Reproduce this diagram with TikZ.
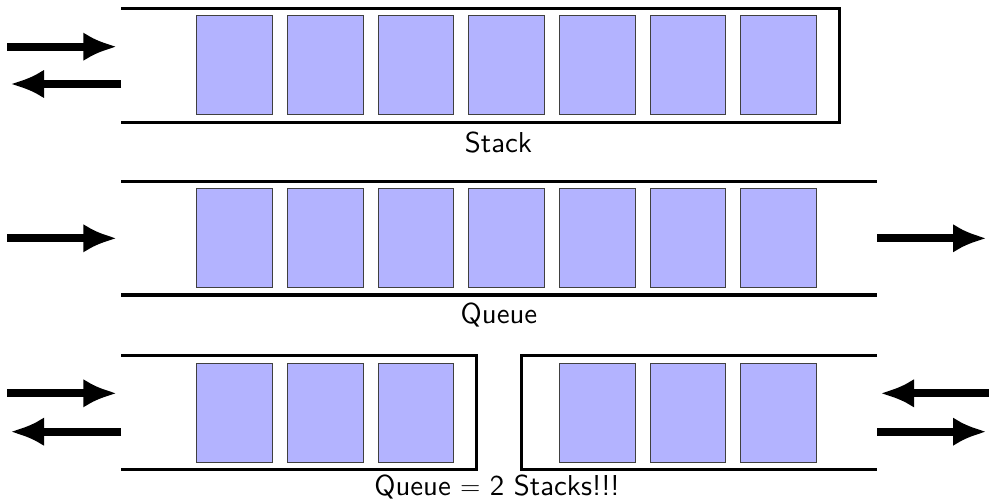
\documentclass[tikz,border=0pt]{standalone}
\usepackage{fontspec}
\newfontfamily\lmsten{lmsans10-regular.otf}
\usetikzlibrary{arrows.meta}
\definecolor{cellfill}{RGB}{179,179,255}
\begin{document}
\begin{tikzpicture}[x=0.75pt,y=-0.75pt,
  cell/.style={draw=black!75,line width=0.7pt,fill=cellfill,minimum width=56.7pt,minimum height=74.3pt,inner sep=0pt,outer sep=0pt},
  wall/.style={line width=2.5pt,line join=miter,line cap=butt},
  bigarrow/.style={line width=6.2pt,-{Latex[length=25.5pt,width=21.5pt]}},
  lbl/.style={font=\lmsten\fontsize{21.6}{26}\selectfont,anchor=base,inner sep=0pt}]
\useasboundingbox (0,0) rectangle (989,500);
% ---------- Stack ----------
\draw[wall] (121,8.3) -- (839.3,8.3) -- (839.3,122.3) -- (121,122.3);
\foreach \i/\x in {1/234.5,2/325.2,3/415.9,4/506.6,5/597.3,6/688.0,7/778.7}
  \node[cell] (s\i) at (\x,65.3) {};
\coordinate (sa1) at (7.3,46.7);  \coordinate (sb1) at (117.3,46.7);
\coordinate (sa2) at (121,84);    \coordinate (sb2) at (10,84);
\draw[bigarrow] (sa1) -- (sb1);
\draw[bigarrow] (sa2) -- (sb2);
\node[lbl] (stacklbl) at (498.5,152.3) {Stack};
% ---------- Queue ----------
\draw[wall] (121,181.7) -- (877,181.7);
\draw[wall] (121,295) -- (877,295);
\foreach \i/\x in {1/234.5,2/325.2,3/415.9,4/506.6,5/597.3,6/688.0,7/778.7}
  \node[cell] (q\i) at (\x,238.2) {};
\coordinate (qa1) at (7.3,238.3);  \coordinate (qb1) at (117.3,238.3);
\coordinate (qa2) at (877,238.3);  \coordinate (qb2) at (987,238.3);
\draw[bigarrow] (qa1) -- (qb1);
\draw[bigarrow] (qa2) -- (qb2);
\node[lbl] (queuelbl) at (499,323.5) {Queue};
% ---------- Queue = 2 Stacks ----------
\draw[wall] (121,355.7) -- (476.7,355.7) -- (476.7,469.3) -- (121,469.3);
\draw[wall] (877,355.7) -- (521.7,355.7) -- (521.7,469.3) -- (877,469.3);
\foreach \i/\x in {1/234.5,2/325.2,3/415.9}
  \node[cell] (l\i) at (\x,413.2) {};
\foreach \i/\x in {1/597.3,2/688.0,3/778.7}
  \node[cell] (r\i) at (\x,413.2) {};
\coordinate (la1) at (7.3,393.3);  \coordinate (lb1) at (117.3,393.3);
\coordinate (la2) at (121,431.7);  \coordinate (lb2) at (10,431.7);
\coordinate (ra1) at (989,393.3);  \coordinate (rb1) at (880,393.3);
\coordinate (ra2) at (877,431.7);  \coordinate (rb2) at (987,431.7);
\draw[bigarrow] (la1) -- (lb1);
\draw[bigarrow] (la2) -- (lb2);
\draw[bigarrow] (ra1) -- (rb1);
\draw[bigarrow] (ra2) -- (rb2);
\node[lbl] (twolbl) at (497,495) {Queue $=$ 2 Stacks!!!};
\end{tikzpicture}
\end{document}
